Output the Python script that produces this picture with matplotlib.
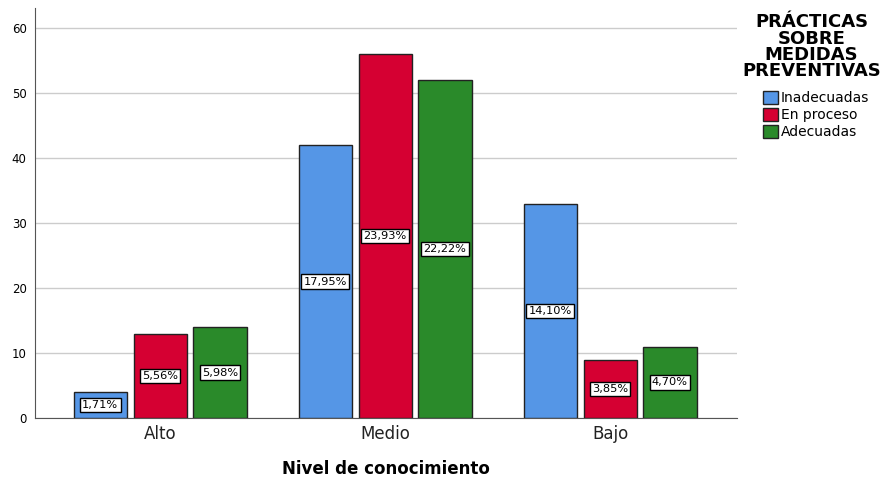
import matplotlib.pyplot as plt
import numpy as np

categories = ['Alto', 'Medio', 'Bajo']
series = ['Inadecuadas', 'En proceso', 'Adecuadas']
counts = {
    'Inadecuadas': [4, 42, 33],
    'En proceso': [13, 56, 9],
    'Adecuadas': [14, 52, 11],
}
percents = {
    'Inadecuadas': ['1,71%', '17,95%', '14,10%'],
    'En proceso': ['5,56%', '23,93%', '3,85%'],
    'Adecuadas': ['5,98%', '22,22%', '4,70%'],
}
colors = ['#5596E6', '#D50032', '#2A8A2A']

fig = plt.figure(figsize=(8.88, 4.78), dpi=100)
ax = fig.add_axes([0.0394, 0.1255, 0.7906, 0.8575])

x = np.arange(len(categories))
width = 0.236
step = 0.266
for i, name in enumerate(series):
    pos = x + (i - 1) * step
    bars = ax.bar(pos, counts[name], width, color=colors[i], edgecolor='#222222',
                  linewidth=1, label=name, zorder=3)
    for b, txt in zip(bars, percents[name]):
        ax.text(b.get_x() + b.get_width() / 2, b.get_height() / 2, txt,
                ha='center', va='center', fontsize=8.2, zorder=4,
                bbox=dict(boxstyle='square,pad=0.2', fc='white', ec='black', lw=1))

ax.set_xlim(-0.556, 2.564)
ax.set_ylim(0, 63.1)
ax.set_yticks(range(0, 61, 10))
ax.set_xticks(x)
ax.set_xticklabels(categories, fontsize=12, color='#222222')
ax.tick_params(axis='y', labelsize=8.5, length=0, pad=6)
ax.tick_params(axis='x', length=0, pad=5)
ax.yaxis.grid(True, color='#cccccc', linewidth=1, zorder=0)
ax.spines['top'].set_visible(False)
ax.spines['right'].set_visible(False)
ax.spines['left'].set_color('#555555')
ax.spines['bottom'].set_color('#555555')
ax.set_xlabel('Nivel de conocimiento', fontsize=12, fontweight='bold', labelpad=12)

fig.text(0.914, 0.972, 'PRÁCTICAS\nSOBRE\nMEDIDAS\nPREVENTIVAS', ha='center', va='top',
         fontsize=13, fontweight='bold', linespacing=0.88)
handles = [plt.Rectangle((0, 0), 1, 1, fc=c, ec='#222222') for c in colors]
fig.legend(handles, series, loc='upper left', bbox_to_anchor=(0.853, 0.822),
           frameon=False, fontsize=10, handlelength=1.1, handleheight=1.1,
           handletextpad=0.2, labelspacing=0.2, borderaxespad=0)

fig.savefig('out.png', dpi=100)
